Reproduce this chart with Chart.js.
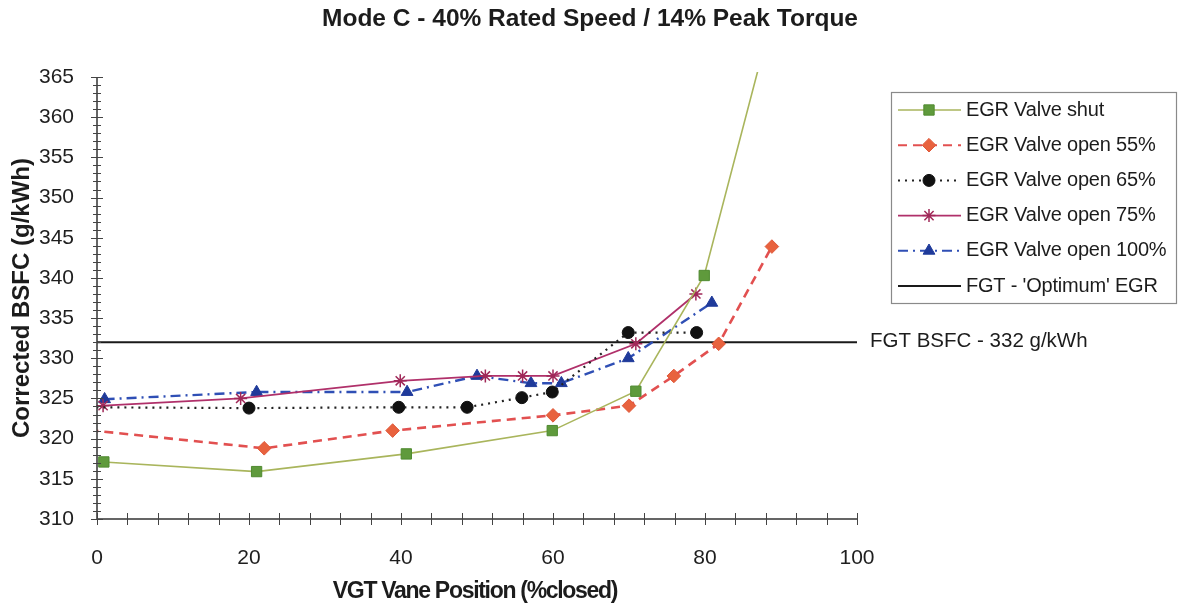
<!DOCTYPE html>
<html>
<head>
<meta charset="utf-8">
<script src="https://cdn.jsdelivr.net/npm/chart.js@4.4.1/dist/chart.umd.min.js"></script>
<style>
  html, body { margin: 0; padding: 0; background: #ffffff; }
  #wrap { width: 1181px; height: 610px; }
</style>
</head>
<body>
<div id="wrap"><canvas id="c" width="1181" height="610"></canvas></div>
<script>
// ---- text ----
const chartTitle = 'Mode C - 40% Rated Speed / 14% Peak Torque';
const xAxisTitle = 'VGT Vane Position (%closed)';
const yAxisTitle = 'Corrected BSFC (g/kWh)';
const refLineLabel = 'FGT BSFC - 332 g/kWh';

// ---- tick labels ----
const xTickValues = [0, 20, 40, 60, 80, 100];
const yTickValues = [310, 315, 320, 325, 330, 335, 340, 345, 350, 355, 360, 365];

// ---- series: VGT vane position (% closed) vs corrected BSFC (g/kWh) ----
const seriesNames = ['EGR Valve shut', 'EGR Valve open 55%', 'EGR Valve open 65%',
                     'EGR Valve open 75%', 'EGR Valve open 100%', "FGT - 'Optimum' EGR"];

const shutX = [0.9, 21.0, 40.7, 59.9, 70.9, 79.9, 90.0];
const shutY = [317.1, 315.9, 318.1, 321.0, 325.9, 340.3, 376.8];

const open55X = [-1.0, 22.0, 38.9, 60.0, 70.0, 75.9, 81.8, 88.8];
const open55Y = [321.05, 318.8, 321.0, 322.9, 324.1, 327.8, 331.8, 343.9];

const open65X = [-1.0, 20.0, 39.7, 48.7, 55.9, 59.9, 69.9, 78.9];
const open65Y = [323.9, 323.8, 323.9, 323.9, 325.1, 325.8, 333.2, 333.2];

const open75X = [0.8, 18.9, 39.9, 51.1, 56.0, 60.0, 70.9, 78.8];
const open75Y = [324.1, 325.0, 327.2, 327.8, 327.8, 327.8, 331.8, 338.0];

const open100X = [1.0, 21.0, 40.8, 50.0, 57.1, 61.1, 69.9, 80.9];
const open100Y = [324.9, 325.8, 325.8, 327.8, 326.9, 326.9, 330.0, 336.9];

const fgtX = [0, 100];
const fgtY = [332, 332];

const pts = (xs, ys) => xs.map((x, i) => ({ x: x, y: ys[i] }));

const FONT = '"Liberation Sans", Arial, sans-serif';

const datasets = [
  { label: seriesNames[0], data: pts(shutX, shutY),
    borderColor: '#a9b55c', borderWidth: 1.6, borderDash: [],
    pointStyle: 'rect', pointRadius: 7.3, pointBackgroundColor: '#5f9a3c', pointBorderColor: '#4f8a30', pointBorderWidth: 1,
    clip: { left: 8, top: 5, right: 0, bottom: 0 } },
  { label: seriesNames[1], data: pts(open55X, open55Y),
    borderColor: '#e25050', borderWidth: 2.6, borderDash: [9, 6],
    pointStyle: 'rectRot', pointRadius: 6.8, pointBackgroundColor: '#e8623e', pointBorderColor: '#e0583a', pointBorderWidth: 1,
    clip: { left: 0, top: 0, right: 0, bottom: 0 } },
  { label: seriesNames[2], data: pts(open65X, open65Y),
    borderColor: '#222222', borderWidth: 2.2, borderDash: [2, 5],
    pointStyle: 'circle', pointRadius: 6, pointBackgroundColor: '#111111', pointBorderColor: '#111111', pointBorderWidth: 1,
    clip: { left: 0, top: 0, right: 0, bottom: 0 } },
  { label: seriesNames[3], data: pts(open75X, open75Y),
    borderColor: '#b0306a', borderWidth: 1.8, borderDash: [],
    pointStyle: 'star', pointRadius: 6.5, pointBackgroundColor: '#a02858', pointBorderColor: '#a02858', pointBorderWidth: 1.5,
    clip: { left: 8, top: 0, right: 0, bottom: 0 } },
  { label: seriesNames[4], data: pts(open100X, open100Y),
    borderColor: '#2f4fb5', borderWidth: 2.4, borderDash: [10, 5, 2, 5],
    pointStyle: 'triangle', pointRadius: 6.8, pointBackgroundColor: '#1f3a9a', pointBorderColor: '#1f3a9a', pointBorderWidth: 1,
    clip: { left: 8, top: 0, right: 0, bottom: 0 } },
  { label: seriesNames[5], data: pts(fgtX, fgtY),
    borderColor: '#1a1a1a', borderWidth: 2, borderDash: [],
    pointStyle: false, pointRadius: 0, pointBackgroundColor: '#1a1a1a', pointBorderColor: '#1a1a1a', pointBorderWidth: 0,
    clip: { left: 0, top: 0, right: 0, bottom: 0 } }
];

// Titles, crossing tick marks, axis lines, reference-line label and the boxed legend
const decorations = {
  id: 'decorations',
  beforeDraw(chart) {
    const ctx = chart.ctx;
    ctx.save();
    ctx.fillStyle = '#ffffff';
    ctx.fillRect(0, 0, chart.width, chart.height);
    ctx.restore();
  },
  afterDraw(chart) {
    const ctx = chart.ctx;
    const a = chart.chartArea;
    const xs = chart.scales.x, ys = chart.scales.y;
    ctx.save();

    // axis lines
    ctx.strokeStyle = '#333333';
    ctx.lineWidth = 1.5;
    ctx.beginPath();
    ctx.moveTo(a.left, a.top);
    ctx.lineTo(a.left, a.bottom);
    ctx.lineTo(a.right, a.bottom);
    ctx.stroke();

    // tick marks that cross the axes
    ctx.lineWidth = 1;
    ctx.strokeStyle = '#444444';
    ctx.beginPath();
    const yMin = yTickValues[0], yMax = yTickValues[yTickValues.length - 1];
    for (let v = yMin; v <= yMax; v += 1) {
      const py = Math.round(ys.getPixelForValue(v)) + 0.5;
      const h = (v % 5 === 0) ? 6 : 4;
      ctx.moveTo(a.left - h, py);
      ctx.lineTo(a.left + h, py);
    }
    const xMin = xTickValues[0], xMax = xTickValues[xTickValues.length - 1];
    for (let v = xMin; v <= xMax; v += 4) {
      const px = Math.round(xs.getPixelForValue(v)) + 0.5;
      ctx.moveTo(px, a.bottom - 6);
      ctx.lineTo(px, a.bottom + 6);
    }
    ctx.stroke();

    // chart title
    ctx.fillStyle = '#1c1c1c';
    ctx.textAlign = 'center';
    ctx.textBaseline = 'middle';
    ctx.font = 'bold 24.5px ' + FONT;
    ctx.fillText(chartTitle, 590, 19);

    // x axis title
    ctx.font = 'bold 23px ' + FONT;
    ctx.letterSpacing = '-1.3px';
    ctx.fillText(xAxisTitle, (a.left + a.right) / 2 - 2, 592);
    ctx.letterSpacing = '0px';

    // y axis title
    ctx.save();
    ctx.translate(22, (a.top + a.bottom) / 2);
    ctx.rotate(-Math.PI / 2);
    ctx.font = 'bold 24px ' + FONT;
    ctx.fillText(yAxisTitle, 0, 0);
    ctx.restore();

    // label of the FGT reference line
    ctx.textAlign = 'left';
    ctx.font = '20.5px ' + FONT;
    ctx.fillText(refLineLabel, a.right + 13, ys.getPixelForValue(fgtY[0]) - 1);

    // legend box
    const bx = 891, by = 92, bw = 285, bh = 211;
    ctx.strokeStyle = '#8a8a8a';
    ctx.lineWidth = 1.2;
    ctx.strokeRect(bx + 0.5, by + 0.5, bw, bh);

    const rowTop = 110, rowGap = 35.2;
    chart.data.datasets.forEach((ds, i) => {
      const cy = rowTop + i * rowGap;
      ctx.save();
      ctx.strokeStyle = ds.borderColor;
      ctx.lineWidth = Math.min(ds.borderWidth, 2);
      ctx.setLineDash(ds.borderDash || []);
      ctx.beginPath();
      ctx.moveTo(898, cy);
      ctx.lineTo(961, cy);
      ctx.stroke();
      ctx.setLineDash([]);
      if (ds.pointStyle) {
        ctx.fillStyle = ds.pointBackgroundColor;
        ctx.strokeStyle = ds.pointBorderColor;
        ctx.lineWidth = ds.pointBorderWidth;
        Chart.helpers.drawPoint(ctx, {
          pointStyle: ds.pointStyle, rotation: 0,
          radius: ds.pointRadius, borderWidth: ds.pointBorderWidth
        }, 929, cy);
      }
      ctx.restore();
      ctx.fillStyle = '#1c1c1c';
      ctx.textAlign = 'left';
      ctx.textBaseline = 'middle';
      ctx.font = '20px ' + FONT;
      ctx.letterSpacing = '-0.2px';
      ctx.fillText(ds.label, 966, cy);
      ctx.letterSpacing = '0px';
    });

    ctx.restore();
  }
};

new Chart(document.getElementById('c'), {
  type: 'line',
  data: { datasets: datasets },
  options: {
    responsive: false,
    devicePixelRatio: 1,
    animation: false,
    events: [],
    layout: { padding: { left: 0, right: 324, top: 77, bottom: 0 } },
    plugins: {
      legend: { display: false },
      title: { display: false },
      tooltip: { enabled: false }
    },
    elements: { line: { tension: 0, fill: false } },
    scales: {
      x: {
        type: 'linear',
        min: xTickValues[0],
        max: xTickValues[xTickValues.length - 1],
        afterBuildTicks: s => { s.ticks = xTickValues.map(v => ({ value: v })); },
        afterFit: s => { s.height = 91; },
        grid: { display: false },
        border: { display: false },
        ticks: { color: '#1e1e1e', padding: 19, maxRotation: 0, autoSkip: false,
                 font: { family: FONT, size: 21 } }
      },
      y: {
        type: 'linear',
        min: yTickValues[0],
        max: yTickValues[yTickValues.length - 1],
        afterBuildTicks: s => { s.ticks = yTickValues.map(v => ({ value: v })); },
        afterFit: s => { s.width = 97; },
        grid: { display: false },
        border: { display: false },
        ticks: { color: '#1e1e1e', padding: 15, autoSkip: false,
                 font: { family: FONT, size: 21 } }
      }
    }
  },
  plugins: [decorations]
});
</script>
</body>
</html>
